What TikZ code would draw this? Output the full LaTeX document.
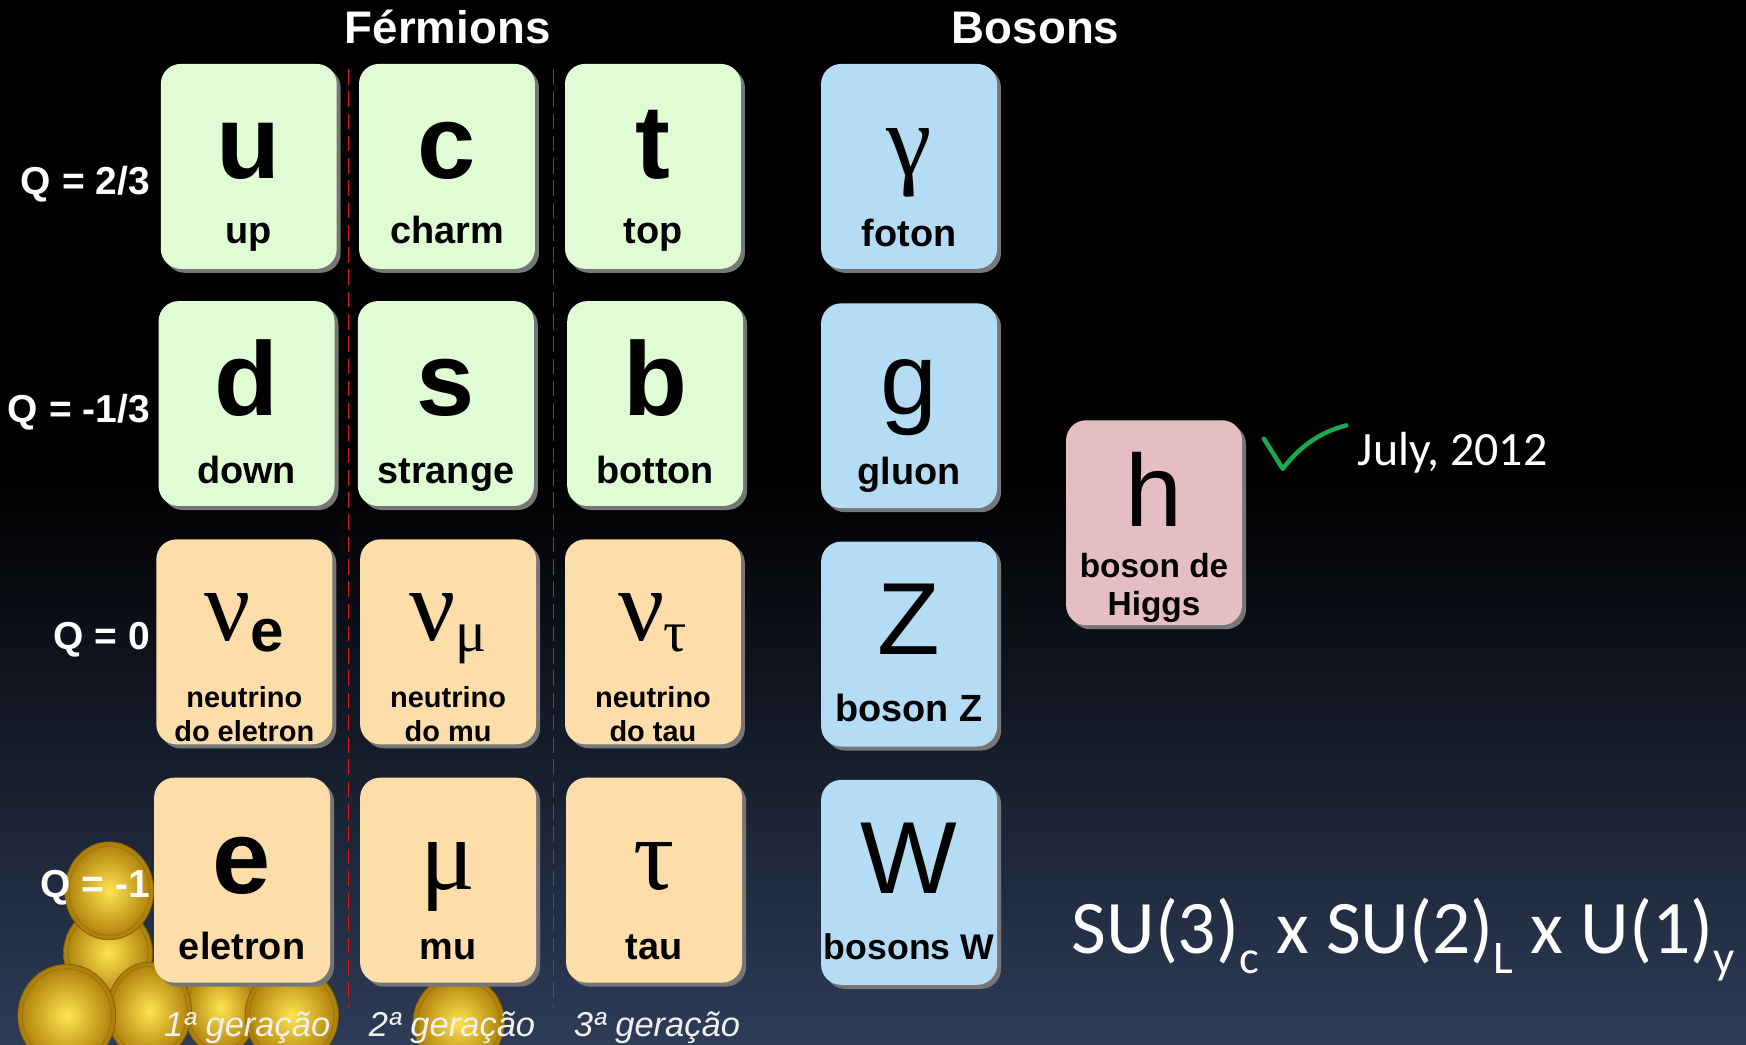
\documentclass[tikz,border=0pt]{standalone}
\usepackage{fontspec}
\setmainfont{Liberation Sans}
\newfontfamily\greekfont{Liberation Serif}
\newfontfamily\slidefont{Carlito}
\usetikzlibrary{calc}

\definecolor{quarkgreen}{RGB}{224,252,212}
\definecolor{leptonpeach}{RGB}{253,221,170}
\definecolor{bosonblue}{RGB}{180,221,245}
\definecolor{higgspink}{RGB}{228,190,194}
\definecolor{cellshadow}{RGB}{118,118,118}
\definecolor{navybottom}{RGB}{46,60,88}
\definecolor{gendash}{RGB}{215,25,25}
\definecolor{tickgreen}{RGB}{22,172,78}
\definecolor{goldlight}{RGB}{255,228,80}
\definecolor{golddark}{RGB}{170,124,8}

\tikzset{
  cell/.style={rounded corners=9pt, minimum width=79pt, minimum height=92pt,
               inner sep=0pt, anchor=north west, draw=none},
  bigsym/.style={font=\fontsize{47}{47}\selectfont\bfseries, anchor=base, inner sep=0pt},
  bigthin/.style={font=\fontsize{46}{46}\selectfont, anchor=base, inner sep=0pt},
  greeksym/.style={font=\fontsize{46}{46}\selectfont\greekfont, anchor=base, inner sep=0pt},
  cellname/.style={font=\fontsize{17}{17}\selectfont\bfseries, anchor=base, inner sep=0pt},
  smallname/.style={font=\fontsize{13}{13}\selectfont\bfseries, anchor=base, inner sep=0pt},
  higgsname/.style={font=\fontsize{15}{15}\selectfont\bfseries, anchor=base, inner sep=0pt},
  charge/.style={font=\fontsize{17.5}{17.5}\selectfont\bfseries, text=white,
                 anchor=base east, inner sep=0pt},
  headline/.style={font=\fontsize{20.5}{20.5}\selectfont\bfseries, text=white,
                   anchor=base, inner sep=0pt},
  genlabel/.style={font=\fontsize{15.5}{15.5}\selectfont\itshape, text=white!94!black,
                   anchor=base, inner sep=0pt},
  divider/.style={gendash, line width=0.6pt, dash pattern=on 7pt off 3pt},
  medal/.style={inner color=goldlight, outer color=golddark,
                draw=golddark!75!black, line width=0.3pt},
  medalrim/.style={draw=golddark!85!black, line width=0.4pt, opacity=0.6},
}

% a particle cell: name, left, top, fill colour
\newcommand\pcell[4]{%
  \fill[cellshadow, rounded corners=9pt] (#2+4,#3+4) rectangle ++(158,184);
  \node[cell, fill=#4] (#1) at (#2,#3) {};}

% a gold medal: centre x, centre y, x radius, y radius
\newcommand\medaldisc[4]{%
  \shade[medal] (#1,#2) ellipse [x radius=#3, y radius=#4];
  \draw[medalrim] (#1,#2) ellipse [x radius=#3-4, y radius=#4-4];}

% neutrino symbol with its flavour subscript
\newcommand\nusub[1]{{\greekfont ν}\kern-0.5pt\raisebox{-5pt}{#1}}

\begin{document}
\begin{tikzpicture}[x=0.5pt,y=-0.5pt]
  % backdrop
  \fill[black] (0,0) rectangle (1568,938);
  \shade[top color=black, bottom color=navybottom] (0,430) rectangle (1568,938);
  \useasboundingbox (0,0) rectangle (1568,938);

  % generation dividers
  \draw[divider] (313,62) -- (313,905);
  \draw[divider] (497,62) -- (497,905);

  % pile of gold medals
  \medaldisc{97}{856}{40}{42}
  \medaldisc{98}{800}{40}{44}
  \medaldisc{198}{905}{33}{42}
  \medaldisc{262}{912}{42}{44}
  \medaldisc{134}{908}{38}{44}
  \medaldisc{60}{912}{44}{46}
  \medaldisc{412}{918}{41}{42}

  % quarks
  \pcell{u}{144}{57}{quarkgreen}
  \pcell{c}{322}{57}{quarkgreen}
  \pcell{t}{507}{57}{quarkgreen}
  \pcell{d}{142}{270}{quarkgreen}
  \pcell{s}{321}{270}{quarkgreen}
  \pcell{b}{509}{270}{quarkgreen}
  % leptons
  \pcell{nue}{140}{484}{leptonpeach}
  \pcell{numu}{323}{484}{leptonpeach}
  \pcell{nutau}{507}{484}{leptonpeach}
  \pcell{e}{138}{698}{leptonpeach}
  \pcell{mu}{323}{698}{leptonpeach}
  \pcell{tau}{508}{698}{leptonpeach}
  % gauge bosons
  \pcell{gamma}{737}{57}{bosonblue}
  \pcell{g}{737}{272}{bosonblue}
  \pcell{Z}{737}{486}{bosonblue}
  \pcell{W}{737}{700}{bosonblue}
  % scalar
  \pcell{h}{957}{377}{higgspink}

  % symbols and names
  \node[bigsym] (u-s) at ($(u.north)+(0,103)$) {u};
  \node[cellname] (u-n) at ($(u.north)+(0,162)$) {up};
  \node[bigsym] (c-s) at ($(c.north)+(0,103)$) {c};
  \node[cellname] (c-n) at ($(c.north)+(0,162)$) {charm};
  \node[bigsym] (t-s) at ($(t.north)+(0,103)$) {t};
  \node[cellname] (t-n) at ($(t.north)+(0,162)$) {top};

  \node[bigsym] (d-s) at ($(d.north)+(0,103)$) {d};
  \node[cellname] (d-n) at ($(d.north)+(0,164)$) {down};
  \node[bigsym] (s-s) at ($(s.north)+(0,103)$) {s};
  \node[cellname] (s-n) at ($(s.north)+(0,164)$) {strange};
  \node[bigsym] (b-s) at ($(b.north)+(0,103)$) {b};
  \node[cellname] (b-n) at ($(b.north)+(0,164)$) {botton};

  \node[greeksym] (nue-s) at ($(nue.north)+(0,91)$)
    {\nusub{\fontspec{Liberation Sans}\bfseries\fontsize{27}{27}\selectfont e}};
  \node[smallname] (nue-n1) at ($(nue.north)+(0,151)$) {neutrino};
  \node[smallname] (nue-n2) at ($(nue.north)+(0,182)$) {do eletron};
  \node[greeksym] (numu-s) at ($(numu.north)+(0,91)$)
    {\nusub{\fontsize{26}{26}\selectfont μ}};
  \node[smallname] (numu-n1) at ($(numu.north)+(0,151)$) {neutrino};
  \node[smallname] (numu-n2) at ($(numu.north)+(0,182)$) {do mu};
  \node[greeksym] (nutau-s) at ($(nutau.north)+(0,91)$)
    {\nusub{\fontsize{26}{26}\selectfont τ}};
  \node[smallname] (nutau-n1) at ($(nutau.north)+(0,151)$) {neutrino};
  \node[smallname] (nutau-n2) at ($(nutau.north)+(0,182)$) {do tau};

  \node[bigsym] (e-s) at ($(e.north)+(0,104)$) {e};
  \node[cellname] (e-n) at ($(e.north)+(0,164)$) {eletron};
  \node[greeksym] (mu-s) at ($(mu.north)+(0,101)$) {μ};
  \node[cellname] (mu-n) at ($(mu.north)+(0,164)$) {mu};
  \node[greeksym] (tau-s) at ($(tau.north)+(0,101)$) {τ};
  \node[cellname] (tau-n) at ($(tau.north)+(0,164)$) {tau};

  \node[greeksym] (gamma-s) at ($(gamma.north)+(0,101)$) {γ};
  \node[cellname] (gamma-n) at ($(gamma.north)+(0,164)$) {foton};
  \node[bigthin] (g-s) at ($(g.north)+(0,100)$) {g};
  \node[cellname] (g-n) at ($(g.north)+(0,163)$) {gluon};
  \node[bigthin] (Z-s) at ($(Z.north)+(0,102)$) {Z};
  \node[cellname] (Z-n) at ($(Z.north)+(0,162)$) {boson Z};
  \node[bigthin] (W-s) at ($(W.north)+(0,102)$) {W};
  \node[cellname, font=\fontsize{16}{16}\selectfont\bfseries] (W-n)
    at ($(W.north)+(0,162)$) {bosons W};

  \node[bigthin] (h-s) at ($(h.north)+(0,96)$) {h};
  \node[higgsname] (h-n1) at ($(h.north)+(0,142)$) {boson de};
  \node[higgsname] (h-n2) at ($(h.north)+(0,176)$) {Higgs};

  % headings
  \node[headline] (fermions) at (402,39) {Férmions};
  \node[headline] (bosons) at (930,39) {Bosons};

  % electric charges of the rows
  \node[charge] (q1) at (135,175) {Q = 2/3};
  \node[charge] (q2) at (135,379) {Q = -1/3};
  \node[charge] (q3) at (135,583) {Q = 0};
  \node[charge] (q4) at (135,806) {Q = -1};

  % generations
  \node[genlabel] (gen1) at (222,931) {1ª geração};
  \node[genlabel] (gen2) at (406,931) {2ª geração};
  \node[genlabel] (gen3) at (590,931) {3ª geração};

  % discovery mark
  \draw[tickgreen, line width=2pt, line cap=round, line join=round]
    (1135,394) -- (1152,421) .. controls (1168,400) and (1186,388) .. (1209,382);
  \node[font=\slidefont\fontsize{21.5}{21.5}\selectfont, text=white, anchor=base west,
        inner sep=0pt] (july) at (1219,418) {July, 2012};

  % gauge group
  \node[font=\slidefont\fontsize{34}{34}\selectfont, text=white, anchor=base west,
        inner sep=0pt] (group) at (962,856)
    {SU(3)\raisebox{-9pt}{\fontsize{21}{21}\selectfont c} x
     SU(2)\raisebox{-9pt}{\fontsize{21}{21}\selectfont L} x
     U(1)\raisebox{-9pt}{\fontsize{21}{21}\selectfont y}};
\end{tikzpicture}
\end{document}
